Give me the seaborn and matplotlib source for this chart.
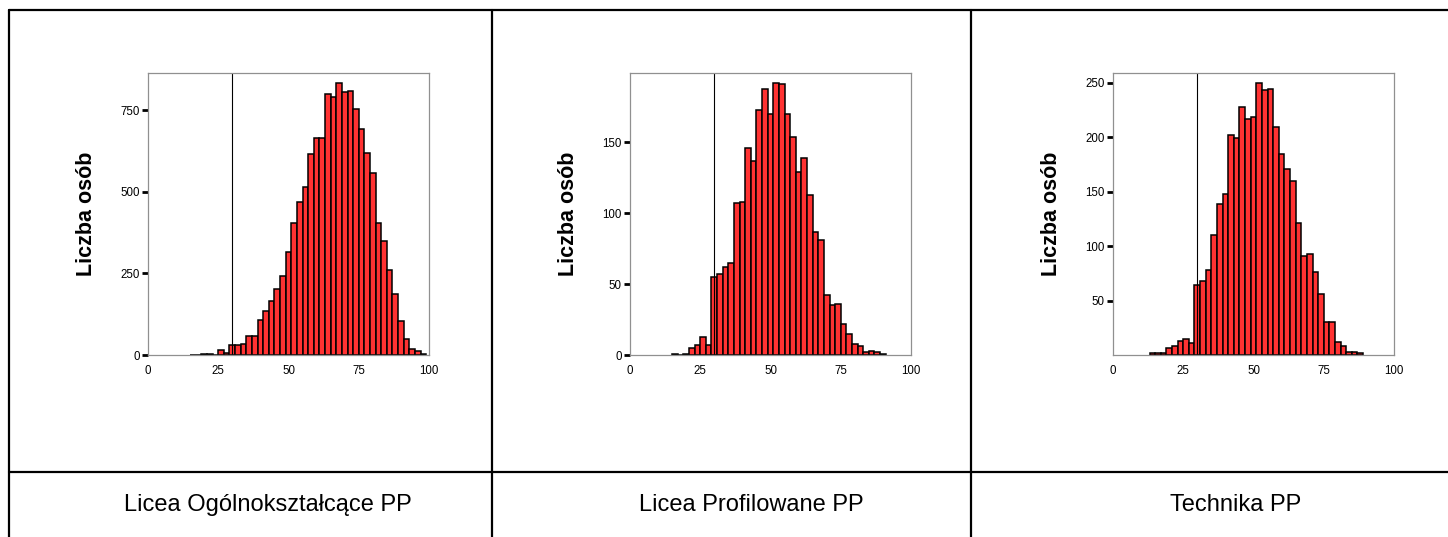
import numpy as np
import pandas as pd
import matplotlib
matplotlib.use("Agg")
import matplotlib.pyplot as plt
import seaborn as sns
from matplotlib.lines import Line2D

# Histogram counts, bin width 2 points
titles = ["Licea Ogólnokształcące PP", "Licea Profilowane PP", "Technika PP"]
bin_width = 2

lo_start = 15
lo_counts = [1, 1, 2, 2, 1, 14, 5, 31, 31, 35, 58, 58, 107, 135, 167, 201, 243,
             315, 404, 468, 514, 616, 666, 666, 802, 792, 833, 807, 811, 756,
             693, 621, 558, 404, 351, 261, 188, 103, 49, 17, 11, 4]

lp_start = 15
lp_counts = [1, 0, 1, 5, 7, 13, 7, 55, 57, 62, 65, 107, 108, 146, 137, 173,
             188, 170, 192, 191, 170, 154, 129, 139, 113, 87, 81, 42, 35, 36,
             22, 15, 8, 6, 2, 3, 2, 1]

t_start = 13
t_counts = [2, 2, 2, 6, 8, 13, 15, 11, 64, 68, 78, 110, 139, 148, 202, 199,
            228, 217, 219, 250, 243, 244, 209, 185, 171, 160, 121, 91, 93, 76,
            56, 30, 30, 12, 8, 3, 3, 2]

starts = [lo_start, lp_start, t_start]
counts = [lo_counts, lp_counts, t_counts]
y_limits = [(0, 865), (0, 199), (0, 259)]
y_ticks = [[0, 250, 500, 750], [0, 50, 100, 150], [50, 100, 150, 200, 250]]
x_ticks = [0, 25, 50, 75, 100]
threshold = 30

sns.set_style("white")
plt.rcParams["font.family"] = ["Liberation Sans", "DejaVu Sans"]
plt.rcParams["text.color"] = "black"
plt.rcParams["axes.labelcolor"] = "black"
plt.rcParams["xtick.color"] = "black"
plt.rcParams["ytick.color"] = "black"

W, H = 1448, 537
fig = plt.figure(figsize=(W / 100, H / 100), dpi=100)

ax_left = [148, 630, 1113]
text_x = [268, 751, 1236]

for i in range(3):
    ax = fig.add_axes([ax_left[i] / W, (H - 355) / H, 281 / W, 282 / H])
    n = len(counts[i])
    lo = starts[i]
    hi = lo + bin_width * n
    df = pd.DataFrame({"score": lo + bin_width * np.arange(n) + bin_width / 2,
                       "n": counts[i]})
    sns.histplot(data=df, x="score", weights="n", binwidth=bin_width,
                 binrange=(lo, hi), ax=ax,
                 color="#ff3232", alpha=1, edgecolor="black", linewidth=1.1)
    ax.axvline(threshold, color="black", linewidth=0.8)
    ax.set_xlim(0, 100)
    ax.set_ylim(*y_limits[i])
    ax.set_xticks(x_ticks)
    ax.set_xticks([0, 100], minor=True)
    ax.set_yticks(y_ticks[i])
    ax.tick_params(axis="x", which="major", length=0, pad=7, labelsize=8.3)
    ax.tick_params(axis="x", which="minor", length=3, width=2.2, color="black",
                   direction="in", bottom=True)
    ax.tick_params(axis="y", length=4, width=2, color="black", direction="out",
                   pad=2, labelsize=8.3, left=True)
    for sp in ax.spines.values():
        sp.set_color("#909090")
        sp.set_linewidth(0.9)
    ax.set_xlabel("")
    ax.set_ylabel("Liczba osób", fontsize=15.5, fontweight="bold")
    ax.yaxis.set_label_coords(-0.18, 0.5)
    fig.text(text_x[i] / W, (H - 505) / H, titles[i], ha="center", va="center",
             fontsize=17)

# table grid lines around the panels
lw = 1.6
def fline(x0, y0, x1, y1):
    fig.add_artist(Line2D([x0 / W, x1 / W], [(H - y0) / H, (H - y1) / H],
                          color="black", linewidth=lw))

fline(9, 10, W, 10)
fline(9, 472, W, 472)
fline(9, 10, 9, H)
fline(492, 10, 492, H)
fline(971, 10, 971, H)

fig.savefig("out.png", dpi=100)
